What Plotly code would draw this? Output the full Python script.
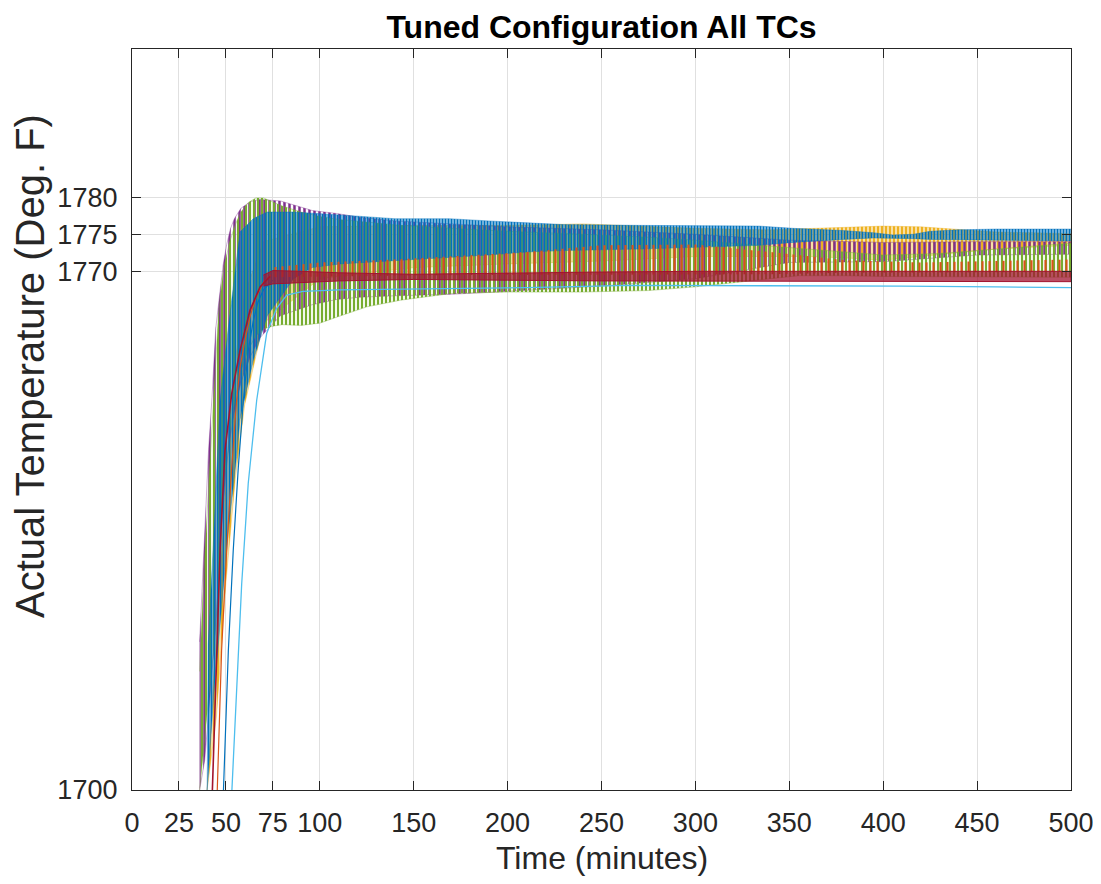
import plotly.graph_objects as go

# ---------------- data ----------------
X_TICKS = [0, 25, 50, 75, 100, 150, 200, 250, 300, 350, 400, 450, 500]
Y_TICKS = [1700, 1770, 1775, 1780]

# Oscillating thermocouples: upper / lower envelope of the oscillation
YELLOW_T  = [40, 45, 50, 55, 60, 70, 100, 150, 200, 240, 260, 300, 340, 360, 380, 400, 420, 440, 460, 480, 500]
YELLOW_HI = [1700, 1722, 1742, 1758, 1767, 1774, 1776, 1776.2, 1776.2, 1776.4, 1776.2, 1775.8, 1775.6, 1775.8, 1776.0, 1776.1, 1776.0, 1775.6, 1775.3, 1775.2, 1775.1]
YELLOW_LO = [1700, 1710, 1728, 1742, 1752, 1763, 1769, 1770.5, 1771, 1771.3, 1771.5, 1772, 1772, 1772, 1771.8, 1771.5, 1772, 1772.5, 1773, 1773.3, 1773.5]

PURPLE_T  = [36, 38.7, 40.8, 42.6, 44.6, 48.5, 50.4, 52.5, 54.5, 58, 63, 68, 79, 96, 109, 121, 140, 170, 200, 250, 300, 350, 400, 450, 500]
PURPLE_HI = [1720, 1735, 1746, 1753, 1762.3, 1770.8, 1773.6, 1775.8, 1777.1, 1778.5, 1779.4, 1779.7, 1779.5, 1778.2, 1777.8, 1777.3, 1776.8, 1776.4, 1776.0, 1775.6, 1775.0, 1774.2, 1773.9, 1774.0, 1774.0]
PURPLE_LO = [1700, 1704, 1710, 1716, 1722, 1738, 1744, 1748, 1751, 1755, 1758.5, 1761, 1764, 1765.5, 1766.2, 1766.5, 1766.7, 1766.9, 1767.3, 1768.0, 1769.0, 1771.2, 1771.3, 1772.2, 1772.3]

GREEN_T  = [36, 38, 41, 44, 46, 48.5, 52, 55, 58, 62, 66, 70, 75, 80, 90, 100, 110, 125, 143, 170, 200, 240, 275, 300, 320, 340, 355, 380, 400, 430, 460, 500]
GREEN_HI = [1716, 1728, 1742, 1756, 1764, 1770, 1774, 1776.3, 1778, 1779.3, 1779.9, 1779.9, 1779.4, 1778.8, 1778, 1777.4, 1777, 1776.6, 1776.2, 1775.8, 1775.4, 1775, 1774.6, 1774.2, 1773.8, 1773.3, 1773, 1772.5, 1772.2, 1772.4, 1773, 1773.8]
GREEN_LO = [1700, 1705, 1713, 1720, 1728, 1740, 1748, 1753, 1756.5, 1759.5, 1761.3, 1762.2, 1762.6, 1762.8, 1762.7, 1763.0, 1763.9, 1765.2, 1766.1, 1767.0, 1767.2, 1767.2, 1767.4, 1767.9, 1768.4, 1769.0, 1769.4, 1769.4, 1769.3, 1769.2, 1769.2, 1769.2]

BLUE_T  = [40, 40.6, 43.3, 46.9, 51.3, 55.7, 57.5, 64.6, 72, 86, 96, 111, 140, 169, 190, 210, 230, 270, 310, 334, 352, 379, 395, 405, 416, 425, 440, 460, 500]
BLUE_HI = [1700, 1719.7, 1733.2, 1752.6, 1762.4, 1771, 1775.3, 1777.1, 1778, 1778, 1777.8, 1777.6, 1777.1, 1777.1, 1776.8, 1776.6, 1776.3, 1776.2, 1776.1, 1776.1, 1775.8, 1775.5, 1775.2, 1774.9, 1775.0, 1775.4, 1775.6, 1775.7, 1775.7]
BLUE_LO = [1700, 1702, 1712, 1722, 1735, 1745, 1750, 1758, 1764, 1769, 1770.5, 1771, 1771.5, 1771.9, 1772.2, 1772.6, 1772.8, 1773, 1773.3, 1773.5, 1773.9, 1774.3, 1774.5, 1774.5, 1774.4, 1774.3, 1774.2, 1774.2, 1774.1]

ORANGE_T  = [74, 100, 140, 180, 210, 250, 300, 340, 380, 420, 460, 500]
ORANGE_HI = [1770.5, 1771.2, 1771.6, 1772.2, 1772.6, 1773.5, 1773.6, 1772.6, 1771.5, 1771.2, 1771.4, 1771.6]
ORANGE_LO = [1769.2, 1769.3, 1769.4, 1769.5, 1769.5, 1769.6, 1769.6, 1769.6, 1769.8, 1769.9, 1769.9, 1769.9]

RED_T  = [70, 75, 90, 110, 150, 200, 250, 300, 350, 400, 450, 500]
RED_HI = [1769.5, 1770.1, 1770.0, 1769.8, 1769.6, 1769.8, 1769.9, 1770.0, 1770.0, 1770.0, 1770.0, 1770.0]
RED_LO = [1768.0, 1768.3, 1768.5, 1768.7, 1768.9, 1768.8, 1768.7, 1768.6, 1768.6, 1768.6, 1768.6, 1768.6]

# Smooth (non-oscillating) traces
ORANGE_RISE_T = [45.4, 47.7, 50.4, 53.1, 55.7, 57.5, 60, 63, 66, 70, 74]
ORANGE_RISE_V = [1700, 1718.8, 1732.3, 1743.5, 1752.6, 1757, 1760.5, 1764, 1766.5, 1768.5, 1769.5]

BLUE_RISE_T = [48.7, 51.3, 53.9, 56.6, 59.3, 61.9, 64.5, 67, 70, 75]
BLUE_RISE_V = [1700, 1718.8, 1732.3, 1743.5, 1752.6, 1759.3, 1763.2, 1765.8, 1767.5, 1768.8]

RED_RISE_T = [42.8, 45.1, 46.9, 49.5, 53.1, 57.5, 62.8, 68.2, 73.5]
RED_RISE_V = [1700, 1718.8, 1732.3, 1745.8, 1753.5, 1759.3, 1764.7, 1767.9, 1769.3]

LBLUE_T = [53.2, 55.7, 58.4, 61.9, 66.4, 71.7, 77, 82.4, 91, 110, 150, 210, 265, 300, 350, 410, 460, 500]
LBLUE_V = [1700, 1714.3, 1727.8, 1741.4, 1752.6, 1761.6, 1765, 1766.8, 1767.3, 1767.5, 1767.6, 1767.8, 1768.1, 1768.1, 1768.0, 1768.0, 1767.9, 1767.8]

# MATLAB default colour order
C_BLUE, C_ORANGE, C_YELLOW = "#0072BD", "#D95319", "#EDB120"
C_PURPLE, C_GREEN, C_LBLUE, C_RED = "#7E2F8E", "#77AC30", "#4DBEEE", "#A2142F"

fig = go.Figure()


def band(t, hi, lo, color, size, solidity, edge=0.4):
    """Dense oscillation drawn as a vertically striped band between its envelopes."""
    fig.add_trace(go.Scatter(
        x=list(t) + list(t)[::-1], y=list(hi) + list(lo)[::-1],
        mode="lines", fill="toself", fillcolor="rgba(0,0,0,0)",
        fillpattern=dict(shape="|", size=size, solidity=solidity,
                         fgcolor=color, bgcolor="rgba(0,0,0,0)", fgopacity=1),
        line=dict(color=color, width=edge),
        hoverinfo="skip", showlegend=False))


def line(t, v, color, width=1.2):
    fig.add_trace(go.Scatter(x=t, y=v, mode="lines",
                             line=dict(color=color, width=width),
                             hoverinfo="skip", showlegend=False))


band(YELLOW_T, YELLOW_HI, YELLOW_LO, C_YELLOW, 4, 0.7)
band(PURPLE_T, PURPLE_HI, PURPLE_LO, C_PURPLE, 5, 0.5)
band(GREEN_T, GREEN_HI, GREEN_LO, C_GREEN, 4, 0.55)
band(BLUE_T, BLUE_HI, BLUE_LO, C_BLUE, 3, 0.7)
band(ORANGE_T, ORANGE_HI, ORANGE_LO, C_ORANGE, 7, 0.3, 0)
line(ORANGE_RISE_T, ORANGE_RISE_V, C_ORANGE)
line(BLUE_RISE_T, BLUE_RISE_V, C_BLUE)
band(RED_T, RED_HI, RED_LO, C_RED, 2, 0.75, 1.0)
line(RED_RISE_T, RED_RISE_V, C_RED, 1.6)
line(LBLUE_T, LBLUE_V, C_LBLUE, 1.3)

FONT = "Liberation Sans, Arial, Helvetica, sans-serif"
AX = "#262626"
GRID = "#e0e0e0"

# page body has an 8 px margin: figure is sized/positioned to compensate
W, H = 1093, 876
ML, MR, MT, MB = 124, 30, 41, 94
PW, PH = W - ML - MR, H - MT - MB

fig.update_layout(
    width=W, height=H,
    margin=dict(l=ML, r=MR, t=MT, b=MB, autoexpand=False),
    paper_bgcolor="white", plot_bgcolor="white",
    font=dict(family=FONT, color=AX),
    title=dict(text="<b>Tuned Configuration All TCs</b>",
               x=593.5 / W, xanchor="center", xref="container",
               y=1 - 19 / H, yanchor="middle", yref="container",
               font=dict(size=32, color="#000000", family=FONT)),
    xaxis=dict(range=[0, 500], tickvals=X_TICKS, ticktext=[str(v) for v in X_TICKS],
               showgrid=True, gridcolor=GRID, gridwidth=1,
               showline=True, linecolor=AX, linewidth=1.3, mirror="allticks",
               ticks="inside", ticklen=9, tickcolor=AX, tickwidth=1.3,
               tickfont=dict(size=27, color=AX, family=FONT),
               ticklabelstandoff=8, automargin=False,
               zeroline=False),
    yaxis=dict(range=[1700, 1800], tickvals=Y_TICKS, ticktext=[str(v) for v in Y_TICKS],
               showgrid=True, gridcolor=GRID, gridwidth=1,
               showline=True, linecolor=AX, linewidth=1.3, mirror="allticks",
               ticks="inside", ticklen=9, tickcolor=AX, tickwidth=1.3,
               tickfont=dict(size=27, color=AX, family=FONT),
               ticklabelstandoff=8, automargin=False,
               zeroline=False),
    annotations=[
        dict(text="Time (minutes)", xref="paper", yref="paper",
             x=0.5, y=(PH - (850 - MT)) / PH, xanchor="center", yanchor="middle",
             showarrow=False, font=dict(size=32, color=AX, family=FONT)),
        dict(text="Actual Temperature (Deg. F)", xref="paper", yref="paper",
             x=(22 - ML) / PW, y=(PH - (358 - MT)) / PH, xanchor="center", yanchor="middle",
             textangle=-90, showarrow=False, font=dict(size=40, color=AX, family=FONT)),
    ],
)

fig.write_html("out.html")
